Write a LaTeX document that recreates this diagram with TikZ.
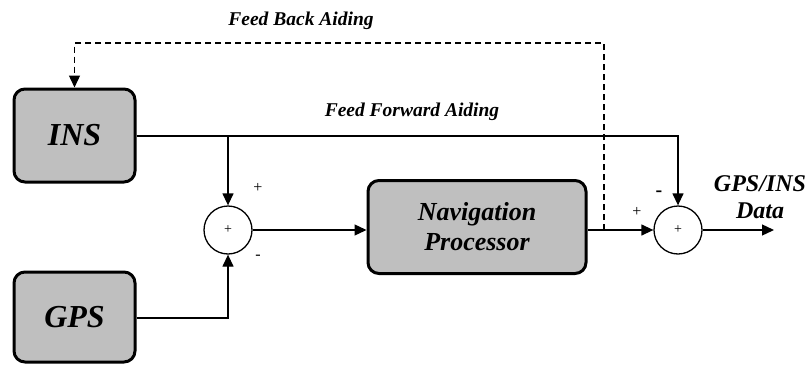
\documentclass[tikz,border=0pt]{standalone}
\usepackage{fontspec}
\setmainfont{Liberation Serif}
\usetikzlibrary{arrows.meta}
\begin{document}
\begin{tikzpicture}[x=1pt,y=-1pt,
  block/.style={draw, line width=3pt, rounded corners=11pt, fill=black!25,
    font=\bfseries\itshape, align=center, inner sep=0pt},
  summer/.style={draw, line width=1.3pt, circle, minimum size=48pt, inner sep=0pt,
    font=\fontsize{14}{14}\selectfont},
  wire/.style={line width=1.3pt},
  arr/.style={wire, -{Triangle[length=12pt,width=11pt]}},
  fb/.style={arr, dash pattern=on 6pt off 4pt},
  lbl/.style={font=\fontsize{19.5}{22}\selectfont\bfseries\itshape},
  sign/.style={font=\fontsize{16}{16}\selectfont}]
\useasboundingbox (0,0) rectangle (810,364);

% blocks
\node[block, minimum width=121pt, minimum height=93pt,
      font=\fontsize{32}{34}\selectfont\bfseries\itshape] (ins) at (74.5,135.5) {INS};
\node[block, minimum width=121pt, minimum height=90pt,
      font=\fontsize{32}{34}\selectfont\bfseries\itshape] (gps) at (74.5,317) {GPS};
\node[block, minimum width=218pt, minimum height=93pt,
      font=\fontsize{26}{30}\selectfont\bfseries\itshape] (nav) at (477,227) {Navigation\\Processor};

% summing junctions
\node[summer] (s1) at (228,230) {+};
\node[summer] (s2) at (678,230) {+};

% junction points
\coordinate (tap) at (228,136);
\coordinate (fbtap) at (604,230);
\coordinate (out) at (774,230);

% signal flow
\draw[wire] (ins.east |- tap) -- (tap);
\draw[arr] (tap) -- (s1.north);
\draw[arr] (tap) -| (s2.north);
\draw[arr] (gps.east |- 0,318) -| (s1.south);
\draw[arr] (s1.east) -- (nav.west |- s1.east);
\draw[arr] (nav.east |- s2.west) -- (s2.west);
\draw[arr] (s2.east) -- (out);

% feedback path
\draw[fb] (fbtap) -- (604,43) -| (ins.north);

% labels
\node[lbl] (fbl) at (301,21) {Feed Back Aiding};
\node[lbl] (ffl) at (412,112) {Feed Forward Aiding};
\node[font=\fontsize{24}{27}\selectfont\bfseries\itshape, align=center] (outl) at (760,197) {GPS/INS\\Data};

% signs
\node[sign] at (258,188) {+};
\node[sign] at (258,257) {-};
\node[sign] at (637,212) {+};
\node[sign, font=\fontsize{20}{20}\selectfont\bfseries] at (659,194) {-};
\end{tikzpicture}
\end{document}
